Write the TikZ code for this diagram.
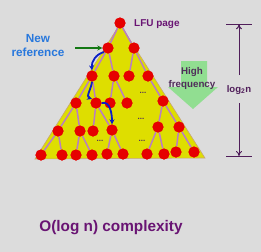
\documentclass[tikz,border=0pt]{standalone}
\usepackage{fontspec}
\setmainfont{Liberation Sans}
\usetikzlibrary{arrows.meta}
\definecolor{bgc}{RGB}{220,220,220}
\definecolor{yel}{RGB}{222,222,0}
\definecolor{redn}{RGB}{230,0,0}
\definecolor{edgec}{RGB}{185,125,195}
\definecolor{bluea}{RGB}{10,30,200}
\definecolor{greena}{RGB}{20,120,20}
\definecolor{newref}{RGB}{40,120,220}
\definecolor{purp}{RGB}{105,20,115}
\definecolor{hfarrow}{RGB}{145,222,145}
\definecolor{hftext}{RGB}{80,45,90}
\definecolor{logc}{RGB}{80,30,90}
\tikzset{
  pg/.style={circle,fill=redn,inner sep=0pt,minimum size=11bp},
  tedge/.style={edgec,line width=1.5bp},
  barrow/.style={bluea,line width=1.8bp,-{Stealth[length=5bp,width=5bp]}},
  dotsn/.style={text=hftext,font=\bfseries\fontsize{8}{8}\selectfont,inner sep=0pt},
  lbl/.style={font=\bfseries,inner sep=0pt,align=center}
}
\begin{document}
\begin{tikzpicture}[x=1bp,y=-1bp]
\useasboundingbox (0,0) rectangle (261,252);
\fill[bgc] (0,0) rectangle (261,252);
% triangle
\fill[yel,draw=edgec!60!yel,line width=0.6bp] (120,24) -- (35,159) -- (205,158) -- cycle;
% nodes
\node[pg] (r) at (120,23) {};
\node[pg] (a1) at (108,48) {};
\node[pg] (a2) at (134,48) {};
\node[pg] (b1) at (92,76) {};
\node[pg] (b2) at (114,76) {};
\node[pg] (b3) at (129,76) {};
\node[pg] (b4) at (148,76) {};
\node[pg] (c1) at (76,103) {};
\node[pg] (c2) at (96,103) {};
\node[pg] (c3) at (110,103) {};
\node[pg] (c4) at (127,103) {};
\node[pg] (c5) at (163,101) {};
\node[pg] (d1) at (58,131) {};
\node[pg] (d2) at (80,131) {};
\node[pg] (d3) at (93,131) {};
\node[pg] (d4) at (112,130) {};
\node[pg] (d5) at (158,127) {};
\node[pg] (d6) at (179,127) {};
\node[pg] (e1) at (41,155) {};
\node[pg] (e2) at (62,155) {};
\node[pg] (e3) at (76,155) {};
\node[pg] (e4) at (92,155) {};
\node[pg] (e5) at (107,154) {};
\node[pg] (e6) at (123,154) {};
\node[pg] (e7) at (147,154) {};
\node[pg] (e8) at (164,154) {};
\node[pg] (e9) at (176,152) {};
\node[pg] (e10) at (194,152) {};
% edges
\foreach \u/\v in {r/a1,r/a2,a1/b1,a1/b2,a2/b3,a2/b4,b1/c1,b1/c2,b2/c3,b2/c4,b4/c5,c1/d1,c1/d2,c2/d3,c2/d4,c5/d5,c5/d6,d1/e1,d1/e2,d2/e3,d2/e4,d4/e5,d4/e6,d5/e7,d5/e8,d6/e9,d6/e10}
  \draw[tedge] (\u) -- (\v);
% nodes on top of edges
\foreach \n in {r,a1,a2,b1,b2,b3,b4,c1,c2,c3,c4,c5,d1,d2,d3,d4,d5,d6,e1,e2,e3,e4,e5,e6,e7,e8,e9,e10}
  \fill[redn] (\n.center) circle (5.5bp);
% dots
\node[dotsn] (dt1) at (143,93) {...};
\node[dotsn] (dt2) at (141,119) {...};
\node[dotsn] (dt3) at (100,141) {...};
\node[dotsn] (dt4) at (142,141) {...};
% labels
\node[lbl,text=purp,font=\bfseries\fontsize{10}{10}\selectfont,anchor=west] (lfu) at (134,24) {LFU page};
\node[lbl,text=newref,font=\bfseries\fontsize{11.8}{14.5}\selectfont] (nr) at (38,45.5) {New\\reference};
\coordinate (gs) at (75,48);
\draw[greena,line width=1.8bp,-{Stealth[length=5bp,width=5bp]}] (gs) -- (a1.west);
% blue arrows
\draw[barrow] (a1.south west) to[out=195,in=95] (b1.north);
\draw[barrow] (b1.south) to[out=-95,in=160] (c2.north west);
\draw[barrow] (c2.east) to[out=15,in=90] (d4.north);
% high frequency arrow
\fill[hfarrow] (181,61) -- (207,61) -- (207,87) -- (218,87) -- (193,109) -- (168,87) -- (181,87) -- cycle;
\node[lbl,text=hftext,font=\bfseries\fontsize{9.8}{13}\selectfont] (hf) at (192,78.5) {High\\frequency};
% log2 n dimension
\coordinate (t1) at (226,24.3);
\coordinate (t2) at (252,24.3);
\coordinate (bl) at (226,156);
\coordinate (br) at (252,156);
\draw[logc,line width=1bp] (t1) -- (t2);
\draw[logc,line width=1bp] (bl) -- (br);
\node[lbl,text=logc,font=\bfseries\fontsize{9.6}{10}\selectfont] (lg) at (239,90) {log\textsubscript{2}n};
\coordinate (tv) at (239,24.3);
\coordinate (bv) at (239,156);
\coordinate (ts) at (239,75);
\coordinate (bs) at (239,103);
\draw[logc,line width=1bp,-{To[length=5bp,width=6bp]}] (ts) -- (tv);
\draw[logc,line width=1bp,-{To[length=5bp,width=6bp]}] (bs) -- (bv);
% complexity
\node[lbl,text=purp,font=\bfseries\fontsize{15.4}{16}\selectfont] (cx) at (111,228) {O(log n) complexity};
\end{tikzpicture}
\end{document}
